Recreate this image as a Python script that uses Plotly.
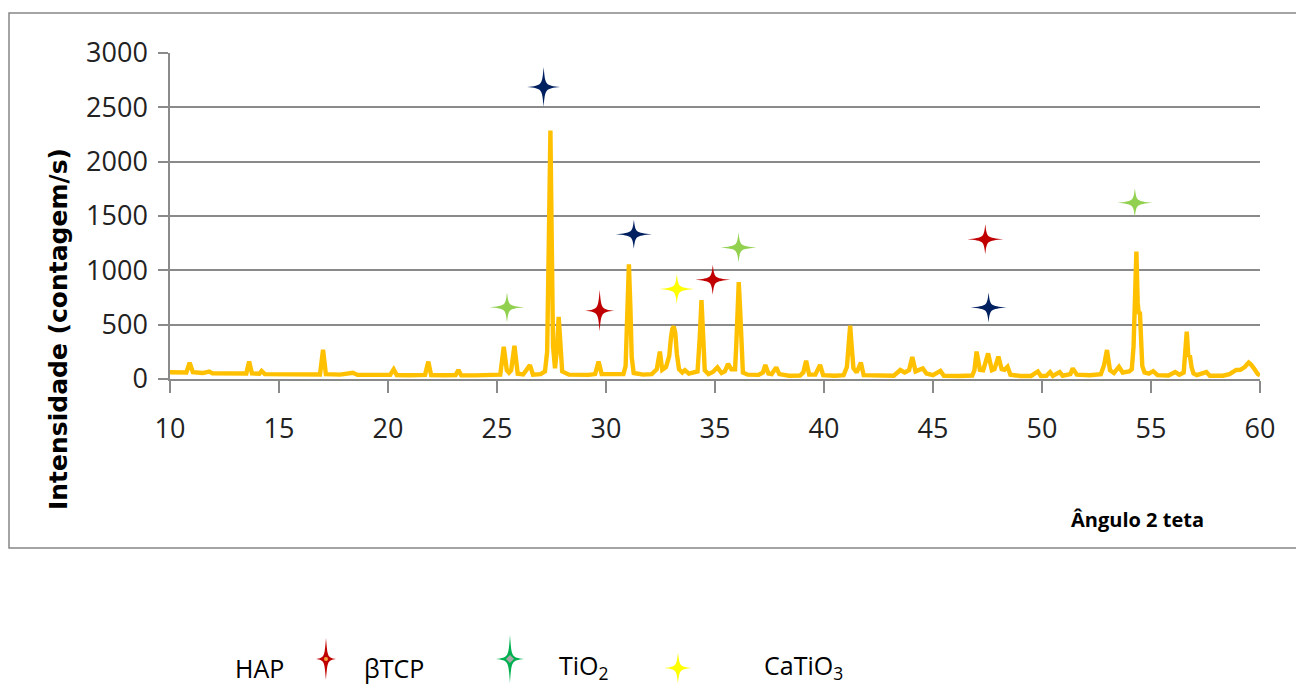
import plotly.graph_objects as go

# ---------------- data ----------------
two_theta = [
    10.0, 10.4, 10.75, 10.9, 11.05, 11.5, 11.8, 11.95, 12.6, 13.2, 13.5, 13.63, 13.76,
    14.1, 14.2, 14.35, 15.0, 15.6, 16.2, 16.88, 17.02, 17.15, 17.8, 18.39, 18.6, 19.4,
    20.1, 20.26, 20.4, 21.0, 21.7, 21.85, 21.98, 22.6, 23.1, 23.23, 23.36, 24.0, 24.6,
    25.15, 25.31, 25.45, 25.55, 25.65, 25.8, 25.95, 26.2, 26.51, 26.65, 27.0, 27.2,
    27.3, 27.38, 27.45, 27.51, 27.57, 27.66, 27.74, 27.83, 27.91, 27.99, 28.3, 28.7,
    29.2, 29.5, 29.66, 29.8, 30.3, 30.8, 30.9, 30.98, 31.05, 31.12, 31.18, 31.27, 31.7,
    32.1, 32.33, 32.47, 32.58, 32.75, 32.9, 32.98, 33.04, 33.11, 33.18, 33.25, 33.35,
    33.5, 33.62, 33.8, 34.2, 34.3, 34.38, 34.46, 34.53, 34.7, 34.9, 35.11, 35.3, 35.45,
    35.6, 35.75, 35.92, 35.98, 36.03, 36.09, 36.15, 36.2, 36.28, 36.5, 37.0, 37.2,
    37.31, 37.45, 37.6, 37.81, 37.95, 38.4, 38.9, 39.05, 39.18, 39.32, 39.6, 39.82,
    39.96, 40.5, 40.9, 41.05, 41.13, 41.2, 41.27, 41.35, 41.5, 41.69, 41.82, 42.5, 43.2,
    43.5, 43.7, 43.9, 44.05, 44.2, 44.53, 44.7, 45.0, 45.34, 45.5, 46.2, 46.8, 46.9,
    47.0, 47.15, 47.3, 47.53, 47.7, 47.82, 48.0, 48.15, 48.28, 48.42, 48.55, 49.0, 49.5,
    49.81, 49.95, 50.2, 50.37, 50.5, 50.81, 50.95, 51.3, 51.41, 51.6, 52.2, 52.7, 52.85,
    52.98, 53.12, 53.3, 53.53, 53.7, 54.0, 54.12, 54.2, 54.26, 54.33, 54.39, 54.44,
    54.49, 54.54, 54.6, 54.7, 54.9, 55.1, 55.3, 55.8, 56.11, 56.3, 56.5, 56.57, 56.64,
    56.71, 56.79, 56.86, 56.95, 57.1, 57.54, 57.7, 58.3, 58.6, 58.91, 59.1, 59.3, 59.48,
    59.6, 59.75, 59.9, 60.0,
]
intensity = [
    62, 58, 60, 150, 62, 55, 69, 52, 50, 48, 50, 160, 52,
    48, 74, 45, 42, 44, 40, 42, 268, 45, 40, 58, 38, 37,
    38, 89, 36, 35, 38, 160, 36, 34, 36, 83, 34, 33, 35,
    40, 296, 80, 58, 80, 305, 48, 42, 128, 40, 45, 70,
    250, 1300, 2286, 1300, 300, 98, 250, 571, 250, 70, 40, 38,
    38, 45, 160, 45, 40, 45, 120, 650, 1055, 650, 200, 55, 40,
    45, 90, 253, 85, 110, 210, 380, 460, 484, 420, 230, 90,
    60, 82, 50, 70, 380, 725, 380, 80, 45, 65, 107, 55, 70,
    139, 90, 90, 330, 680, 892, 650, 280, 60, 40, 38, 60,
    129, 50, 45, 107, 45, 30, 32, 60, 169, 40, 40, 129,
    35, 30, 35, 110, 300, 490, 300, 100, 60, 151, 35, 28, 30,
    83, 60, 80, 203, 70, 98, 50, 35, 74, 30, 28, 32, 80,
    252, 85, 80, 236, 80, 90, 206, 90, 85, 113, 40, 28, 28,
    69, 28, 30, 64, 28, 64, 30, 45, 98, 40, 35, 45, 130,
    267, 80, 55, 113, 60, 70, 90, 300, 800, 1172, 700, 600,
    620, 350, 120, 60, 50, 72, 35, 32, 64, 40, 60, 250, 436,
    220, 207, 110, 50, 35, 64, 30, 30, 45, 83, 85, 110, 151,
    130, 90, 45, 35,
]

x_ticks = [10, 15, 20, 25, 30, 35, 40, 45, 50, 55, 60]
y_ticks = [0, 500, 1000, 1500, 2000, 2500, 3000]

# peak markers (stars) per phase
hap_x = [27.14, 31.28, 47.55]
hap_y = [2686, 1332, 657]
btcp_x = [29.71, 34.90, 47.40]
btcp_y = [629, 914, 1286]
tio2_x = [25.46, 36.08, 54.26]
tio2_y = [660, 1209, 1623]
catio3_x = [33.25]
catio3_y = [829]

legend_labels = ["HAP", "βTCP", "TiO<sub>2</sub>", "CaTiO<sub>3</sub>"]
x_title = "Ângulo 2 teta"
y_title = "Intensidade (contagem/s)"

# ---------------- styles / layout ----------------
W, H = 1296, 688
L, R, T, B = 170, 36, 53, 309
PW, PH = W - L - R, H - T - B

def px_x(p):
    return (p - L) / PW

def px_y(p):
    return (H - B - p) / PH

SANS = "Open Sans, DejaVu Sans, sans-serif"
GRID = "#8a8a8a"

fig = go.Figure()
fig.add_trace(go.Scatter(
    x=two_theta, y=intensity, mode="lines",
    line=dict(color="#FFC000", width=4.4),
    hoverinfo="skip", showlegend=False,
))

def star_path(w, h, c=1.6):
    return (f"M 0,{h} C {c},{c} {c},{c} {w},0 C {c},{-c} {c},{-c} 0,{-h} "
            f"C {-c},{-c} {-c},{-c} {-w},0 C {-c},{c} {-c},{c} 0,{h} Z")

shapes = []

def add_star(xa, ya, w, h, color, ref="data"):
    d = dict(type="path", xsizemode="pixel", ysizemode="pixel",
             xanchor=xa, yanchor=ya, path=star_path(w / 2, h / 2),
             fillcolor=color, line=dict(width=0), layer="above")
    if ref == "data":
        d.update(xref="x", yref="y")
    else:
        d.update(xref="paper", yref="paper")
    shapes.append(d)

hap_size = [(33, 40), (36, 29), (36, 30)]
btcp_size = [(29, 42), (35, 30), (36, 30)]
tio2_size = [(35, 30), (36, 30), (35, 29)]
catio3_size = [(35, 30)]

for xs, ys, sz, col in [
    (hap_x, hap_y, hap_size, "#002060"),
    (btcp_x, btcp_y, btcp_size, "#C00000"),
    (tio2_x, tio2_y, tio2_size, "#92D050"),
    (catio3_x, catio3_y, catio3_size, "#FFFF00"),
]:
    for xv, yv, (w, h) in zip(xs, ys, sz):
        add_star(xv, yv, w, h, col)

# outer chart frame
shapes.append(dict(type="rect", xref="paper", yref="paper",
                   x0=px_x(9), x1=px_x(1302), y0=px_y(548), y1=px_y(13),
                   line=dict(color="#868686", width=1.5), fillcolor="rgba(0,0,0,0)",
                   layer="below"))

# legend stars (below chart)
add_star(px_x(326), px_y(659), 20, 42, "#C00000", ref="paper")
add_star(px_x(510), px_y(659), 28, 48, "#00B050", ref="paper")
add_star(px_x(678), px_y(668), 27, 31, "#FFFF00", ref="paper")
shapes.append(dict(type="circle", xref="paper", yref="paper", xsizemode="pixel",
                   ysizemode="pixel", xanchor=px_x(326), yanchor=px_y(659),
                   x0=-2, x1=2, y0=-2, y1=2, fillcolor="#F4A040", line=dict(width=0)))
shapes.append(dict(type="path", xref="paper", yref="paper", xsizemode="pixel",
                   ysizemode="pixel", xanchor=px_x(510), yanchor=px_y(659),
                   path="M 0,4 L 4,0 L 0,-4 L -4,0 Z", fillcolor="#A8A8A8",
                   line=dict(width=0)))

annotations = [
    dict(text=f"<b>{y_title}</b>", xref="paper", yref="paper",
         x=px_x(58), y=px_y(329), xanchor="center", yanchor="middle",
         textangle=-90, showarrow=False,
         font=dict(family="DejaVu Sans, sans-serif", size=25, color="#000000")),
    dict(text=f"<b>{x_title}</b>", xref="paper", yref="paper",
         x=px_x(1137), y=px_y(519), xanchor="center", yanchor="middle",
         showarrow=False,
         font=dict(family=SANS, size=20, color="#000000")),
]
legend_left = [233, 362, 557, 762]
for lbl, lx in zip(legend_labels, legend_left):
    annotations.append(dict(text=lbl, xref="paper", yref="paper",
                            x=px_x(lx), y=px_y(687), xanchor="left", yanchor="bottom",
                            showarrow=False,
                            font=dict(family=SANS, size=25, color="#000000")))

fig.update_layout(
    width=W, height=H,
    margin=dict(l=L, r=R, t=T, b=B, pad=0),
    paper_bgcolor="white", plot_bgcolor="white",
    shapes=shapes, annotations=annotations,
    showlegend=False,
    xaxis=dict(range=[10, 60], tickvals=x_ticks, ticktext=[str(v) for v in x_ticks],
               showgrid=False, zeroline=False, showline=True, linecolor=GRID,
               linewidth=1.5, ticks="outside", ticklen=12, tickwidth=1.5,
               tickcolor=GRID, ticklabelstandoff=13,
               tickfont=dict(family=SANS, size=27, color="#222222")),
    yaxis=dict(range=[0, 3000], tickvals=y_ticks, ticktext=[str(v) for v in y_ticks],
               showgrid=True, gridcolor=GRID, gridwidth=1.6, zeroline=False,
               showline=True, linecolor=GRID, linewidth=1.5, ticks="outside",
               ticklen=10, tickwidth=1.5, tickcolor=GRID, ticklabelstandoff=5,
               tickfont=dict(family=SANS, size=27, color="#222222")),
)

fig.write_html("out.html")
